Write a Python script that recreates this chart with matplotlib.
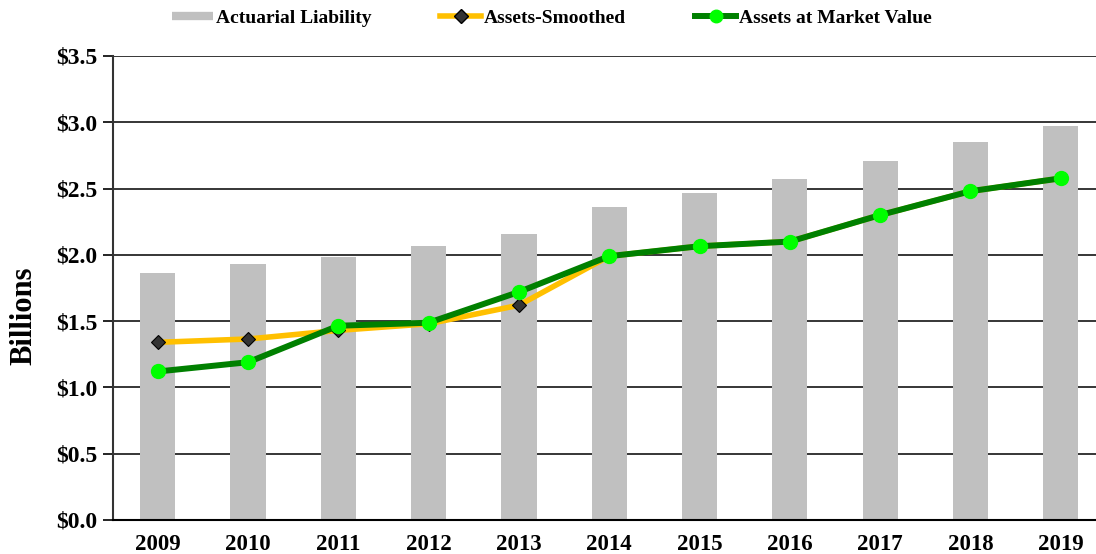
import matplotlib
matplotlib.use("Agg")
import matplotlib.pyplot as plt
from matplotlib.lines import Line2D
from matplotlib.ticker import FuncFormatter

years = ["2009", "2010", "2011", "2012", "2013", "2014", "2015", "2016", "2017", "2018", "2019"]
actuarial_liability = [1.86, 1.93, 1.98, 2.07, 2.16, 2.36, 2.47, 2.57, 2.71, 2.85, 2.97]
assets_smoothed = [1.34, 1.365, 1.43, 1.48, 1.62, 1.99, 2.065, 2.10, 2.30, 2.48, 2.577]
assets_market = [1.12, 1.19, 1.465, 1.488, 1.72, 1.99, 2.065, 2.10, 2.30, 2.48, 2.577]
y_ticks = [0.0, 0.5, 1.0, 1.5, 2.0, 2.5, 3.0, 3.5]

plt.rcParams['font.family'] = ['Liberation Serif', 'DejaVu Serif']
plt.rcParams['font.weight'] = 'bold'

fig = plt.figure(figsize=(10.96, 5.54), dpi=100)
ax = fig.add_axes([0.1027, 0.0614, 1.0 - 0.1027, 0.899 - 0.0614])

x = list(range(len(years)))
ax.bar(x, actuarial_liability, width=0.39, color="#C0C0C0", zorder=2)
ax.plot(x, assets_smoothed, color="#FFC000", lw=4.0, marker="D", markersize=7.5,
        markerfacecolor="#333333", markeredgecolor="#000000", markeredgewidth=0.8, zorder=3)
ax.plot(x, assets_market, color="#008000", lw=4.3, marker="o", markersize=10,
        markerfacecolor="#00FF00", markeredgecolor="#00FF00", zorder=4)

ax.set_xlim(-0.5, 10.39)
ax.set_ylim(0, 3.5)
ax.set_yticks(y_ticks)
ax.yaxis.set_major_formatter(FuncFormatter(lambda v, p: f"${v:.1f}"))
ax.set_xticks(x)
ax.set_xticklabels(years)
ax.tick_params(axis='x', length=0, labelsize=16.5, pad=10)
ax.tick_params(axis='y', length=7, width=1.2, labelsize=17, pad=4, color="black")
for lab in ax.get_xticklabels() + ax.get_yticklabels():
    lab.set_fontweight('bold')

ax.grid(axis='y', color='black', lw=1.1, zorder=1)
ax.set_axisbelow(True)
for s in ['top', 'right']:
    ax.spines[s].set_visible(False)
ax.spines['left'].set_color('#333333')
ax.spines['left'].set_linewidth(1.5)
ax.spines['bottom'].set_color('black')
ax.spines['bottom'].set_linewidth(1.5)

ax.set_ylabel("Billions", fontsize=22, fontweight='bold', va='center')
ax.yaxis.set_label_coords(-0.0900, 0.44)

handles = [
    Line2D([], [], color="#C0C0C0", lw=6, solid_capstyle='butt'),
    Line2D([], [], color="#FFC000", lw=4, marker="D", markersize=7,
           markerfacecolor="#333333", markeredgecolor="#000000"),
    Line2D([], [], color="#008000", lw=4.3, marker="o", markersize=9,
           markerfacecolor="#00FF00", markeredgecolor="#00FF00"),
]
labels = ["Actuarial Liability", "Assets-Smoothed", "Assets at Market Value"]
fig.legend(handles, labels, loc='center', bbox_to_anchor=(0.5036, 0.968), ncol=3,
           frameon=False, prop={'size': 14, 'weight': 'bold'}, handlelength=2.1,
           handletextpad=0.15, columnspacing=3.55)

fig.savefig("out.png", dpi=100)
